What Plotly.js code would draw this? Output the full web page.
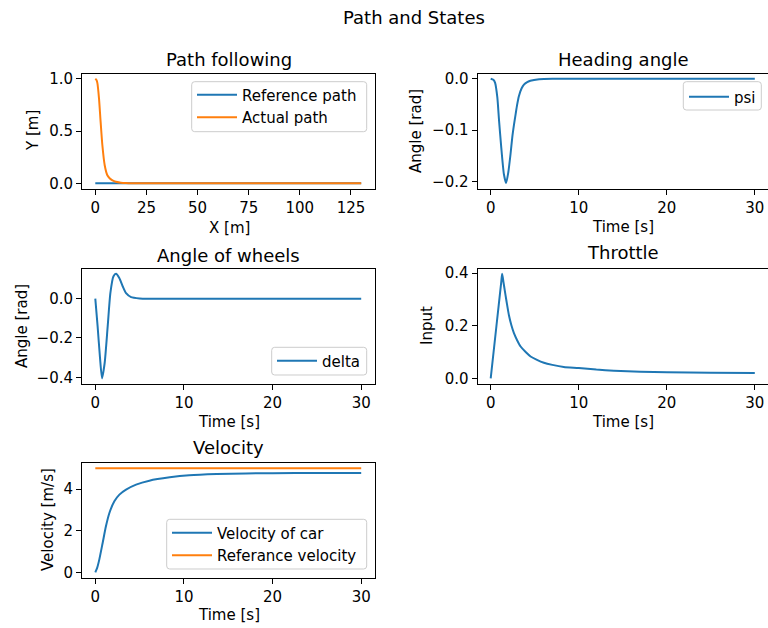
<!DOCTYPE html>
<html>
<head>
<meta charset="utf-8">
<script src="https://cdn.plot.ly/plotly-3.0.1.min.js"></script>
<style>
  html, body { margin: 0; padding: 0; background: #ffffff; }
  #chart { width: 768px; height: 628px; }
</style>
</head>
<body>
<div id="chart"></div>
<script>
// ---- Path following: X position [m] against lateral position Y [m] ----
const refPathX = [0, 130];
const refPathY = [0, 0];
const actPathX = [0, 0.5, 1.0, 1.8, 2.6, 3.45, 4.6, 5.9, 7.0, 8.4, 10, 12.5, 15, 17.4, 130];
const actPathY = [1.0, 0.99, 0.96, 0.815, 0.59, 0.366, 0.173, 0.077, 0.048, 0.027, 0.014, 0.006, 0.002, 0, 0];

// ---- Heading angle psi [rad] over time [s] ----
const psiT = [0, 0.3, 0.5, 0.75, 0.95, 1.2, 1.5, 1.75, 2.0, 2.25, 2.45, 2.65, 2.85, 3.0, 3.2, 3.5, 3.8, 4.1, 4.5, 5.5, 7, 30];
const psiV = [0, -0.002, -0.008, -0.036, -0.082, -0.134, -0.186, -0.203, -0.182, -0.147, -0.114, -0.089, -0.067, -0.051, -0.034, -0.019, -0.011, -0.007, -0.004, -0.001, 0, 0];

// ---- Steering angle delta [rad] over time [s] ----
const deltaT = [0, 0.26, 0.53, 0.76, 1.06, 1.4, 1.7, 2.04, 2.34, 2.72, 3.1, 3.47, 4.04, 5, 6, 30];
const deltaV = [0, -0.14, -0.30, -0.405, -0.326, -0.14, 0.028, 0.113, 0.127, 0.104, 0.062, 0.028, 0.008, 0.0015, 0, 0];

// ---- Throttle input over time [s] ----
const throttleT = [0, 0.65, 1.2, 1.3, 1.45, 1.6, 1.7, 1.85, 2.07, 2.35, 2.64, 3.0, 3.4, 4.0, 4.53, 5.2, 6.04, 7, 8.3, 10, 12, 14, 17, 20, 25, 30];
const throttleV = [0, 0.199, 0.367, 0.398, 0.366, 0.334, 0.313, 0.282, 0.240, 0.202, 0.172, 0.145, 0.121, 0.099, 0.083, 0.071, 0.059, 0.051, 0.043, 0.039, 0.033, 0.029, 0.025, 0.023, 0.021, 0.020];

// ---- Velocity [m/s] over time [s] ----
const velT = [0, 0.2, 0.45, 0.83, 1.2, 1.59, 2.15, 2.72, 3.47, 4.6, 6.1, 8.4, 10.6, 13.7, 17, 20, 25, 30];
const velV = [0, 0.2, 0.61, 1.41, 2.21, 2.85, 3.41, 3.73, 3.97, 4.21, 4.40, 4.56, 4.66, 4.72, 4.75, 4.76, 4.77, 4.77];
const velRefT = [0, 30];
const velRefV = [5, 5];

// ---- Tick values and labels ----
const pathXTicks = [0, 25, 50, 75, 100, 125];
const pathYTicks = [0, 0.5, 1.0];
const pathYLabels = ['0.0', '0.5', '1.0'];
const timeTicks = [0, 10, 20, 30];
const psiTicks = [0, -0.1, -0.2];
const psiLabels = ['0.0', '\u22120.1', '\u22120.2'];
const deltaTicks = [0, -0.2, -0.4];
const deltaLabels = ['0.0', '\u22120.2', '\u22120.4'];
const throttleTicks = [0, 0.2, 0.4];
const throttleLabels = ['0.0', '0.2', '0.4'];
const velTicks = [0, 2, 4];
const velLabels = ['0', '2', '4'];

// ---- Figure geometry (pixels) ----
const W = 768, H = 628;
const FONT = 'DejaVu Sans, sans-serif';
const BLUE = '#1f77b4', ORANGE = '#ff7f0e';
const px = x => x / W;
const py = y => 1 - y / H;

const colL = [px(82), px(374.5)];
const colR = [px(477.5), 1];
const row1 = [py(188.5), py(73.5)];
const row2 = [py(383.5), py(268.5)];
const row3 = [py(577.5), py(463)];

function line(x, y, name, color, xa, ya, legend, show) {
  return {
    x: x, y: y, name: name, type: 'scatter', mode: 'lines',
    line: { color: color, width: 2, shape: 'spline', smoothing: 0.6 },
    xaxis: xa, yaxis: ya, legend: legend, showlegend: show
  };
}

const traces = [
  line(refPathX, refPathY, 'Reference path', BLUE, 'x', 'y', 'legend', true),
  line(actPathX, actPathY, 'Actual path', ORANGE, 'x', 'y', 'legend', true),
  line(psiT, psiV, 'psi', BLUE, 'x2', 'y2', 'legend2', true),
  line(deltaT, deltaV, 'delta', BLUE, 'x3', 'y3', 'legend3', true),
  line(throttleT, throttleV, 'throttle', BLUE, 'x4', 'y4', 'legend', false),
  line(velT, velV, 'Velocity of car', BLUE, 'x5', 'y5', 'legend4', true),
  line(velRefT, velRefV, 'Referance velocity', ORANGE, 'x5', 'y5', 'legend4', true)
];

function axis(domain, anchor, range, tickvals, ticktext) {
  const a = {
    domain: domain, anchor: anchor, range: range,
    tickvals: tickvals, showgrid: false, zeroline: false,
    showline: true, linecolor: '#000000', linewidth: 1, mirror: true,
    ticks: 'outside', ticklen: 5, tickwidth: 1, tickcolor: '#000000',
    tickfont: { family: FONT, size: 15, color: '#000000' },
    fixedrange: true
  };
  if (ticktext) a.ticktext = ticktext;
  return a;
}

const timeRange = [-1.5, 31.5];

function label(text, x, y, angle, size) {
  return {
    text: text, xref: 'paper', yref: 'paper', x: px(x), y: py(y),
    xanchor: 'center', yanchor: 'middle', showarrow: false,
    textangle: angle || 0,
    font: { family: FONT, size: size || 15, color: '#000000' }
  };
}

// rounded legend frame
function roundBox(x0, y0, x1, y1) {
  const r = 3;
  const X = v => px(v).toFixed(5), Y = v => py(v).toFixed(5);
  const path =
    'M' + X(x0 + r) + ',' + Y(y0) + ' L' + X(x1 - r) + ',' + Y(y0) +
    ' Q' + X(x1) + ',' + Y(y0) + ' ' + X(x1) + ',' + Y(y0 + r) +
    ' L' + X(x1) + ',' + Y(y1 - r) +
    ' Q' + X(x1) + ',' + Y(y1) + ' ' + X(x1 - r) + ',' + Y(y1) +
    ' L' + X(x0 + r) + ',' + Y(y1) +
    ' Q' + X(x0) + ',' + Y(y1) + ' ' + X(x0) + ',' + Y(y1 - r) +
    ' L' + X(x0) + ',' + Y(y0 + r) +
    ' Q' + X(x0) + ',' + Y(y0) + ' ' + X(x0 + r) + ',' + Y(y0) + ' Z';
  return {
    type: 'path', path: path, xref: 'paper', yref: 'paper',
    fillcolor: 'rgba(255,255,255,0.8)', line: { color: '#cccccc', width: 1 },
    layer: 'above'
  };
}

function legendAt(x, y) {
  return {
    x: px(x), y: py(y), xref: 'paper', yref: 'paper',
    xanchor: 'left', yanchor: 'top',
    bgcolor: 'rgba(0,0,0,0)', borderwidth: 0,
    font: { family: FONT, size: 15, color: '#000000' },
    itemwidth: 40, tracegroupgap: 0
  };
}

const layout = {
  width: W, height: H,
  margin: { l: 0, r: 0, t: 0, b: 0 },
  paper_bgcolor: '#ffffff', plot_bgcolor: '#ffffff',
  font: { family: FONT, size: 15, color: '#000000' },
  xaxis: axis(colL, 'y', [-6.5, 136.5], pathXTicks),
  yaxis: axis(row1, 'x', [-0.05, 1.05], pathYTicks, pathYLabels),
  xaxis2: axis(colR, 'y2', timeRange, timeTicks),
  yaxis2: axis(row1, 'x2', [-0.2137, 0.0102], psiTicks, psiLabels),
  xaxis3: axis(colL, 'y3', timeRange, timeTicks),
  yaxis3: axis(row2, 'x3', [-0.4316, 0.1536], deltaTicks, deltaLabels),
  xaxis4: axis(colR, 'y4', timeRange, timeTicks),
  yaxis4: axis(row2, 'x4', [-0.0199, 0.4179], throttleTicks, throttleLabels),
  xaxis5: axis(colL, 'y5', timeRange, timeTicks),
  yaxis5: axis(row3, 'x5', [-0.25, 5.25], velTicks, velLabels),
  legend: legendAt(192, 78.5),
  legend2: legendAt(684, 80.5),
  legend3: legendAt(272, 344.5),
  legend4: legendAt(167, 516.5),
  shapes: [
    roundBox(191.7, 81.7, 366.7, 131.7),
    roundBox(683.3, 81.7, 761.3, 110),
    roundBox(271.7, 347.3, 366.7, 375),
    roundBox(166.7, 519.3, 366.7, 569)
  ],
  annotations: [
    label('Path and States', 414, 17, 0, 18),
    label('Path following', 228.5, 60, 0, 18),
    label('Heading angle', 623, 60, 0, 18),
    label('Angle of wheels', 228.5, 255, 0, 18),
    label('Throttle', 623, 253, 0, 18),
    label('Velocity', 228.5, 448, 0, 18),
    label('X [m]', 229, 228),
    label('Y [m]', 33, 131, -90),
    label('Time [s]', 623, 227),
    label('Angle [rad]', 416, 131, -90),
    label('Time [s]', 228.5, 422),
    label('Angle [rad]', 22, 326, -90),
    label('Time [s]', 623, 422),
    label('Input', 427, 326, -90),
    label('Time [s]', 228.5, 615),
    label('Velocity [m/s]', 48, 520, -90)
  ]
};

Plotly.newPlot('chart', traces, layout, { staticPlot: true, displayModeBar: false });
</script>
</body>
</html>
